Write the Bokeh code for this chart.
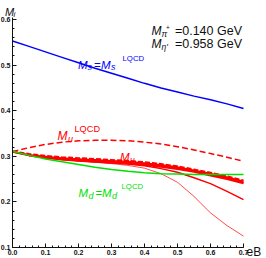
from bokeh.plotting import figure
from bokeh.models import Range1d, SingleIntervalTicker, Label, NumeralTickFormatter
from bokeh.embed import file_html
from bokeh.resources import INLINE

# ---- data ----
eB = [0.0, 0.05, 0.1, 0.15, 0.2, 0.25, 0.3, 0.35, 0.4, 0.45, 0.5, 0.55, 0.6, 0.65, 0.7]
Ms = [0.553, 0.541, 0.529, 0.517, 0.505, 0.493, 0.482, 0.471, 0.460, 0.450, 0.441, 0.432, 0.424, 0.415, 0.405]
Mu_lqcd = [0.310, 0.319, 0.326, 0.331, 0.334, 0.335, 0.335, 0.334, 0.331, 0.327, 0.321, 0.314, 0.306, 0.298, 0.289]
Mu_upper = [0.311, 0.305, 0.301, 0.298, 0.296, 0.294, 0.292, 0.290, 0.287, 0.283, 0.278, 0.271, 0.264, 0.256, 0.247]
Mu_lower = [0.310, 0.302, 0.297, 0.293, 0.290, 0.288, 0.286, 0.284, 0.281, 0.277, 0.272, 0.266, 0.258, 0.250, 0.241]
Mu_mid = [0.310, 0.302, 0.297, 0.293, 0.290, 0.288, 0.286, 0.283, 0.279, 0.273, 0.265, 0.253, 0.240, 0.223, 0.205]
Mu_thin = [0.310, 0.302, 0.297, 0.293, 0.290, 0.287, 0.284, 0.280, 0.274, 0.262, 0.243, 0.212, 0.176, 0.148, 0.125]
Md = [0.311, 0.302, 0.294, 0.288, 0.282, 0.276, 0.271, 0.267, 0.264, 0.262, 0.261, 0.260, 0.260, 0.260, 0.260]

X_MIN, X_MAX = 0.0, 0.7          # axis extent
Y_MIN, Y_MAX = 0.1, 0.6044

W, H = 266, 258
FL, FB = 12, 247                 # axis origin in page pixels
PX_X = 231 / (X_MAX - X_MIN)     # pixels per unit along x
PX_Y = 230 / (Y_MAX - Y_MIN)     # pixels per unit along y


def dx(px):
    return X_MIN + (px - FL) / PX_X


def dy(py):
    return Y_MIN + (FB - py) / PX_Y


p = figure(width=W, height=H, output_backend="svg", toolbar_location=None,
           x_range=Range1d(dx(0), dx(W)), y_range=Range1d(dy(H), dy(0)),
           min_border_left=0, min_border_right=0,
           min_border_top=0, min_border_bottom=0)
p.styles = {"position": "absolute", "left": "0px", "top": "0px"}
p.outline_line_color = None
p.xgrid.visible = False
p.ygrid.visible = False
p.background_fill_color = "white"
p.border_fill_color = "white"

for ax in (p.xaxis[0], p.yaxis[0]):
    ax.ticker = SingleIntervalTicker(interval=0.1, num_minor_ticks=5)
    ax.formatter = NumeralTickFormatter(format="0.0")
    ax.axis_line_color = "#111111"
    ax.axis_line_width = 1
    ax.major_tick_in = 4
    ax.major_tick_out = 0
    ax.minor_tick_in = 2
    ax.minor_tick_out = 0
    ax.major_tick_line_color = "#111111"
    ax.minor_tick_line_color = "#111111"
    ax.major_label_text_font = "Liberation Sans"
    ax.major_label_text_font_size = "7px"
    ax.major_label_text_font_style = "bold"
    ax.major_label_text_color = "#111111"
p.xaxis.fixed_location = Y_MIN
p.yaxis.fixed_location = X_MIN
p.xaxis.bounds = (X_MIN, X_MAX + 1e-4)
p.yaxis.bounds = (Y_MIN, Y_MAX)
p.xaxis.major_label_standoff = 2
p.yaxis.major_label_standoff = 2

# ---- curves ----
p.line(eB, Ms, line_color="#0000ff", line_width=1.5)
p.line(eB, Mu_lqcd, line_color="#ff0000", line_width=1.5, line_dash="6 3")
p.varea(x=eB, y1=Mu_lower, y2=Mu_upper, fill_color="#ff0000", fill_alpha=1.0)
p.line(eB, Mu_thin, line_color="#ff2020", line_width=0.8)
p.line(eB, Mu_mid, line_color="#ff0000", line_width=1.5)
p.line(eB, Mu_lower, line_color="#ff0000", line_width=2.0)
p.line(eB, Mu_upper, line_color="#ff0000", line_width=2.0, line_dash="5 2")
p.line(eB, Md, line_color="#00e000", line_width=1.5)


def put(txt, px, py, size, color, italic=False, align="left"):
    p.add_layout(Label(x=dx(px), y=dy(py), text=txt, text_font="Liberation Sans",
                       text_font_size=f"{size}px",
                       text_font_style="italic" if italic else "normal",
                       text_color=color, text_align=align, text_baseline="alphabetic"))


# axis labels
put("M", 4.5, 11, 11, "#111111", italic=True)
put("i", 13, 14, 8, "#111111", italic=True)
put("eB", 246, 251, 12, "#111111")

# meson masses
put("M", 151, 30, 12, "#111111", italic=True)
put("\u03c0", 161, 33, 8.5, "#111111", italic=True)
put("+", 165.5, 27, 6.5, "#111111")
put("=0.140 GeV", 241.5, 30, 12.5, "#111111", align="right")
put("M", 151, 43, 12, "#111111", italic=True)
put("\u03b7'", 161, 46, 8.5, "#111111", italic=True)
put("=0.958 GeV", 241.5, 43, 12.5, "#111111", align="right")

# blue label M_s = M_s^LQCD
BLUE = "#0000ff"
put("M", 77.5, 64, 11.5, BLUE, italic=True)
put("s", 87, 66.5, 9, BLUE, italic=True)
put("=", 93.5, 64, 11.5, BLUE)
put("M", 100.5, 64, 11.5, BLUE, italic=True)
put("s", 110.5, 66.5, 9, BLUE, italic=True)
put("LQCD", 122, 57.5, 7.8, BLUE)

# red label M_u^LQCD
RED = "#ff0000"
put("M", 57, 135.5, 12, RED, italic=True)
put("u", 67.5, 138.5, 9, RED, italic=True)
put("LQCD", 74, 128.5, 9.2, RED)

# red label M_u
put("M", 119.5, 156, 11.5, RED, italic=True)
put("u", 129.5, 159, 8.5, RED, italic=True)

# green label M_d = M_d^LQCD
GREEN = "#00e000"
put("M", 78, 192, 11.5, GREEN, italic=True)
put("d", 88, 195, 9, GREEN, italic=True)
put("=", 95, 192, 11.5, GREEN)
put("M", 101.5, 192, 11.5, GREEN, italic=True)
put("d", 111.5, 195, 9, GREEN, italic=True)
put("LQCD", 121, 186, 7.8, GREEN)

open("out.html", "w").write(file_html(p, INLINE))
